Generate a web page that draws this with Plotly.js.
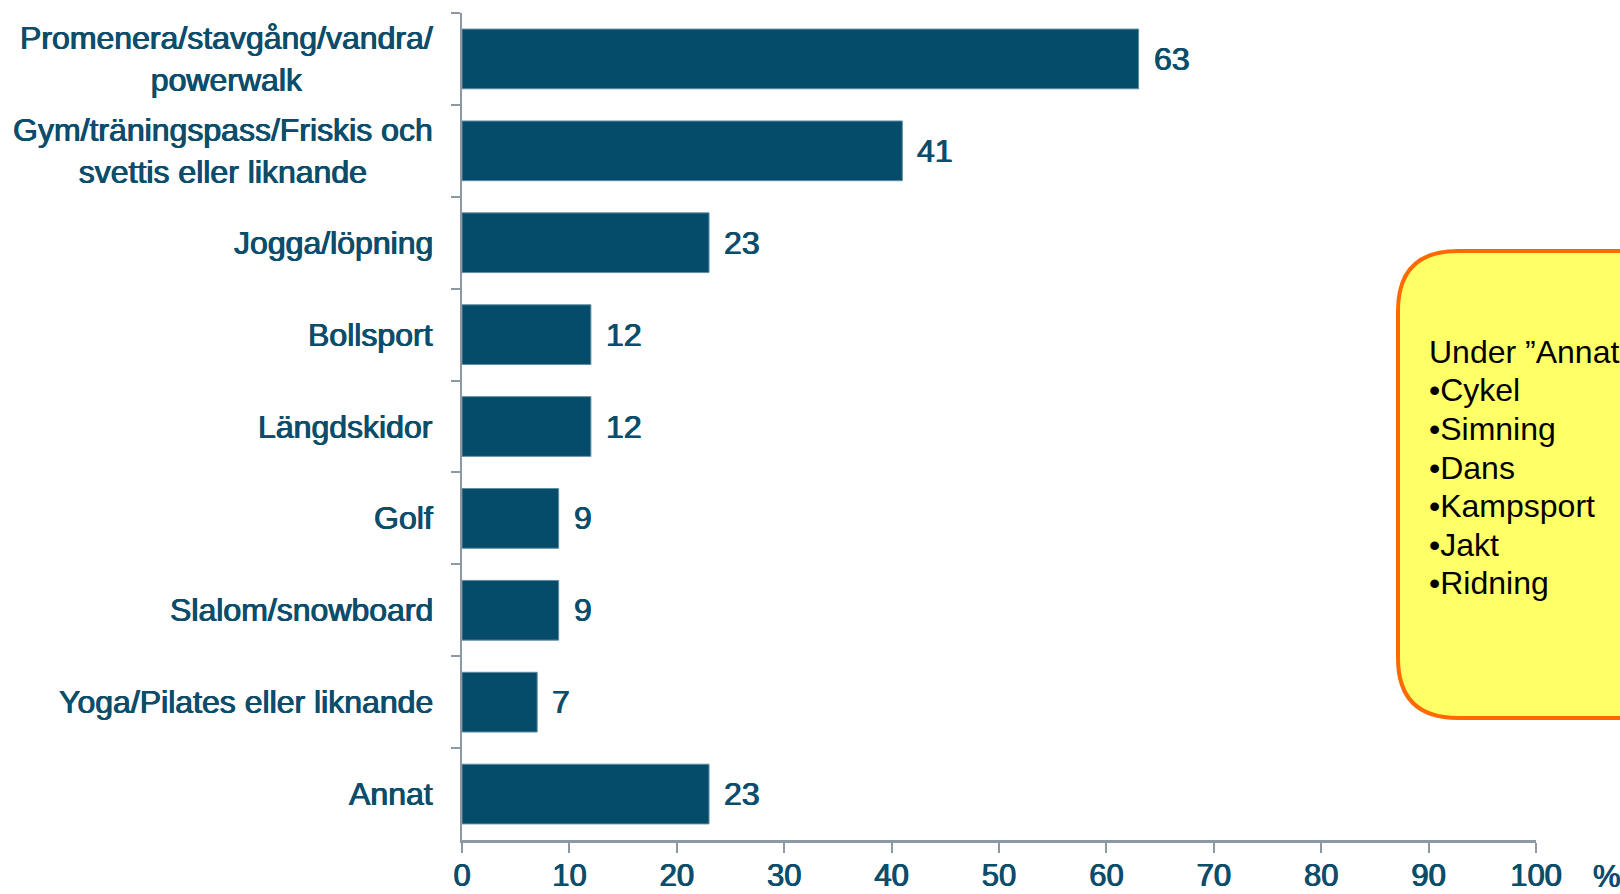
<!DOCTYPE html>
<html>
<head>
<meta charset="utf-8">
<script src="https://cdn.plot.ly/plotly-3.0.1.min.js"></script>
<style>html,body{margin:0;padding:0;background:#fff;}#chart{width:1620px;height:894px;}</style>
</head>
<body>
<div id="chart"></div>
<script>
const categories = [
  "Promenera/stavgång/vandra/<br>powerwalk",
  "Gym/träningspass/Friskis och<br>svettis eller liknande",
  "Jogga/löpning",
  "Bollsport",
  "Längdskidor",
  "Golf",
  "Slalom/snowboard",
  "Yoga/Pilates eller liknande",
  "Annat"
];
const values = [63, 41, 23, 12, 12, 9, 9, 7, 23];
const xTickVals = [0, 10, 20, 30, 40, 50, 60, 70, 80, 90, 100];
const unitLabel = "%";
const noteLines = ["Under ”Annat”:", "•Cykel", "•Simning", "•Dans", "•Kampsport", "•Jakt", "•Ridning"];

const teal = "#0b4d6a";
const barColor = "#044c69";
const axisGray = "#8c99a4";
const thick = "0.6px 0 0 " + teal + ", -0.5px 0 0 " + teal;
const labelFont = {family: "Liberation Sans, Arial, sans-serif", size: 32, color: teal, shadow: thick};
const tickFont = {family: "Liberation Sans, Arial, sans-serif", size: 31, color: teal, shadow: thick};

const W = 1620, H = 894;
const margin = {l: 462, r: 84, t: 13, b: 54};
const pw = W - margin.l - margin.r, ph = H - margin.t - margin.b;
const px2paperX = p => (p - margin.l) / pw;
const px2paperY = p => (H - margin.b - p) / ph;

const annotations = [];
categories.forEach((c, i) => {
  annotations.push({
    x: 0, y: c, xref: "x", yref: "y", xanchor: "right", yanchor: "middle",
    xshift: -27, text: c, showarrow: false, align: "center", font: labelFont
  });
  annotations.push({
    x: values[i], y: c, xref: "x", yref: "y", xanchor: "left", yanchor: "middle",
    xshift: 13, text: String(values[i]), showarrow: false, font: labelFont
  });
});
annotations.push({
  x: px2paperX(1607), y: px2paperY(876), xref: "paper", yref: "paper",
  xanchor: "center", yanchor: "middle", text: unitLabel, showarrow: false, font: tickFont
});
noteLines.forEach((t, i) => {
  annotations.push({
    x: px2paperX(1427), y: px2paperY(352 + i * 38.5), xref: "paper", yref: "paper",
    xanchor: "left", yanchor: "middle", text: t, showarrow: false, align: "left",
    font: {family: "Liberation Sans, Arial, sans-serif", size: 32, color: "#000000"}
  });
});

// rounded rectangle note box (paper coords)
const bx0 = px2paperX(1398), bx1 = px2paperX(1680);
const by0 = px2paperY(718), by1 = px2paperY(251);
const rx = 60 / pw, ry = 60 / ph;
const boxPath = `M ${bx0 + rx},${by1} L ${bx1 - rx},${by1} Q ${bx1},${by1} ${bx1},${by1 - ry} ` +
  `L ${bx1},${by0 + ry} Q ${bx1},${by0} ${bx1 - rx},${by0} L ${bx0 + rx},${by0} ` +
  `Q ${bx0},${by0} ${bx0},${by0 + ry} L ${bx0},${by1 - ry} Q ${bx0},${by1} ${bx0 + rx},${by1} Z`;

const data = [{
  type: "bar",
  orientation: "h",
  x: values,
  y: categories,
  marker: {color: barColor, line: {color: "#5f8ea3", width: 1}},
  hoverinfo: "skip"
}];

const layout = {
  width: W, height: H,
  margin: margin,
  paper_bgcolor: "#ffffff",
  plot_bgcolor: "#ffffff",
  showlegend: false,
  bargap: 0.35,
  xaxis: {
    range: [0, 100],
    tickvals: xTickVals,
    showgrid: false, zeroline: false,
    showline: true, linecolor: axisGray, linewidth: 3,
    ticks: "outside", ticklen: 10, tickwidth: 2, tickcolor: axisGray,
    ticklabelstandoff: -4,
    tickfont: tickFont,
    fixedrange: true
  },
  yaxis: {
    type: "category",
    categoryorder: "array",
    categoryarray: categories,
    autorange: "reversed",
    showgrid: false, zeroline: false,
    showline: true, linecolor: axisGray, linewidth: 2,
    ticks: "outside", tickson: "boundaries", ticklen: 9, tickwidth: 2, tickcolor: axisGray,
    showticklabels: false,
    fixedrange: true
  },
  shapes: [{
    type: "path", xref: "paper", yref: "paper", path: boxPath,
    fillcolor: "#ffff66", line: {color: "#ff6a00", width: 4}, layer: "above"
  }],
  annotations: annotations
};

Plotly.newPlot("chart", data, layout, {displayModeBar: false, staticPlot: true});
</script>
</body>
</html>
